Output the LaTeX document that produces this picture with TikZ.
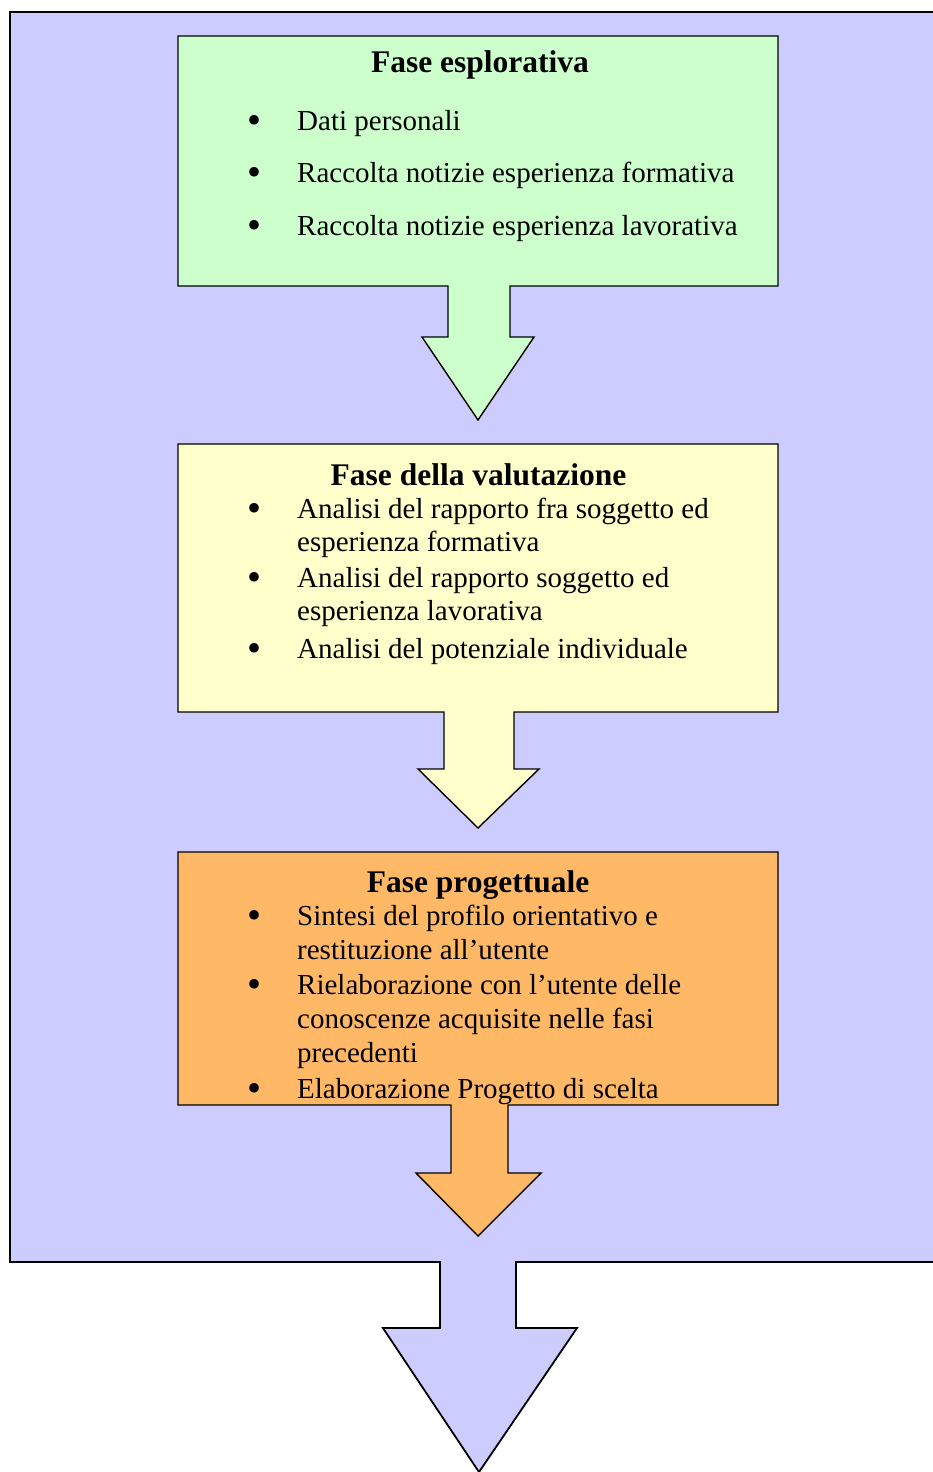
\documentclass[tikz,border=0pt]{standalone}
\usepackage{fontspec}
\setmainfont{Liberation Serif}
\definecolor{outerblue}{RGB}{204,204,255}
\definecolor{phgreen}{RGB}{204,255,204}
\definecolor{phyellow}{RGB}{255,255,204}
\definecolor{phorange}{RGB}{255,185,102}
\begin{document}
\begin{tikzpicture}[x=1pt,y=-1pt,
  blk/.style={draw=black, line width=1.4pt, line join=miter},
  ttl/.style={anchor=base, font=\fontsize{31.5}{36}\selectfont\bfseries, inner sep=0pt},
  itm/.style={anchor=base west, font=\fontsize{29}{33.5}\selectfont, inner sep=0pt},
  bul/.style={anchor=base, font=\fontsize{40}{40}\selectfont, inner sep=0pt, yshift=-3.5pt}]
\useasboundingbox (0,0) rectangle (933,1472);
\begin{scope}
\clip (0,0) rectangle (933,1473);
% outer block arrow
\path[blk, fill=outerblue, line width=1.8pt] (10,12) -- (945,12) -- (945,1262) -- (516,1262) -- (516,1328) -- (577,1328)
  -- (479,1472) -- (383,1328) -- (440,1328) -- (440,1262) -- (10,1262) -- cycle;
\end{scope}
% green block
\path[blk, fill=phgreen] (178,36) -- (778,36) -- (778,286) -- (510,286) -- (510,337) -- (534,337)
  -- (478,420) -- (422,337) -- (448,337) -- (448,286) -- (178,286) -- cycle;
% yellow block
\path[blk, fill=phyellow] (178,444) -- (778,444) -- (778,712) -- (514,712) -- (514,769) -- (539,769)
  -- (478,828) -- (418,769) -- (444,769) -- (444,712) -- (178,712) -- cycle;
% orange block
\path[blk, fill=phorange] (178,852) -- (778,852) -- (778,1105) -- (508,1105) -- (508,1173) -- (541,1173)
  -- (478,1236) -- (416,1173) -- (451,1173) -- (451,1105) -- (178,1105) -- cycle;

% green texts
\node[ttl] (gt) at (480,73) {Fase esplorativa};
\node[bul] (gb1) at (254,130) {•};
\node[itm] (g1) at (297,130) {Dati personali};
\node[bul] (gb2) at (254,182) {•};
\node[itm] (g2) at (297,182) {Raccolta notizie esperienza formativa};
\node[bul] (gb3) at (254,235) {•};
\node[itm] (g3) at (297,235) {Raccolta notizie esperienza lavorativa};

% yellow texts
\node[ttl] (yt) at (478.5,485) {Fase della valutazione};
\node[bul] (yb1) at (254,518) {•};
\node[itm] (y1a) at (297,518) {Analisi del rapporto fra soggetto ed};
\node[itm] (y1b) at (297,551) {esperienza formativa};
\node[bul] (yb2) at (254,587) {•};
\node[itm] (y2a) at (297,587) {Analisi del rapporto soggetto ed};
\node[itm] (y2b) at (297,620) {esperienza lavorativa};
\node[bul] (yb3) at (254,658) {•};
\node[itm] (y3) at (297,658) {Analisi del potenziale individuale};

% orange texts
\node[ttl] (ot) at (478,892) {Fase progettuale};
\node[bul] (ob1) at (254,925) {•};
\node[itm] (o1a) at (297,925) {Sintesi del profilo orientativo e};
\node[itm] (o1b) at (297,959) {restituzione all’utente};
\node[bul] (ob2) at (254,994) {•};
\node[itm] (o2a) at (297,994) {Rielaborazione con l’utente delle};
\node[itm] (o2b) at (297,1028) {conoscenze acquisite nelle fasi};
\node[itm] (o2c) at (297,1062) {precedenti};
\begin{scope}
\clip (178,852) rectangle (778,1104);
\node[bul] (ob3) at (254,1098) {•};
\node[itm] (o3) at (297,1098) {Elaborazione Progetto di scelta};
\end{scope}
\end{tikzpicture}
\end{document}
